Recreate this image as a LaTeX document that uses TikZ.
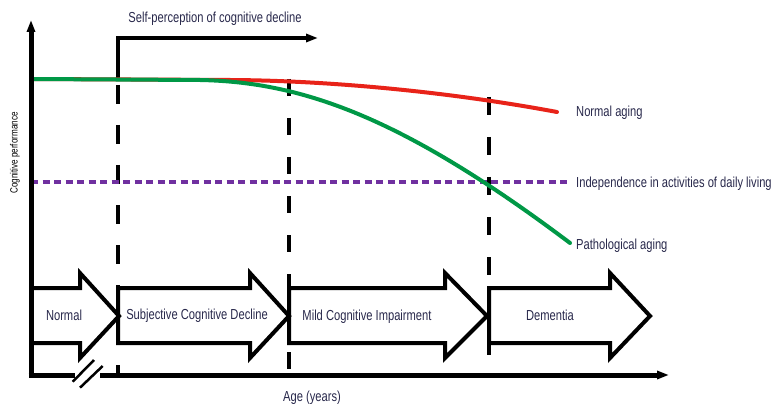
\documentclass[tikz,border=0pt]{standalone}
\usepackage{fontspec}
\setmainfont[FakeStretch=0.77]{Liberation Sans}
\usetikzlibrary{arrows.meta}
\definecolor{txt}{RGB}{40,40,75}
\definecolor{redc}{RGB}{232,35,25}
\definecolor{greenc}{RGB}{0,152,70}
\definecolor{purplec}{RGB}{112,48,160}
\begin{document}
\begin{tikzpicture}[x=1pt,y=-1pt,
  lbl/.style={font=\fontsize{14.5}{16}\selectfont, text=txt, inner sep=0pt},
  smalllbl/.style={font=\fontsize{10.5}{12}\selectfont, text=black, inner sep=0pt},
  axisline/.style={line width=5pt},
  blockarrow/.style={line width=4pt, line join=miter, miter limit=10},
  vdash/.style={line width=3.2pt},
  curve/.style={line width=4pt, line cap=round},
  tipstyle/.style={-{Triangle[length=12pt,width=8pt]}}]
\useasboundingbox (0,0) rectangle (781,406);

% ---- dashed vertical stage lines
\draw[vdash, dash pattern=on 19pt off 21pt] (118,85) coordinate (d1top) -- (118,375) coordinate (d1bot);
\draw[vdash, dash pattern=on 17pt off 22pt] (289,79) coordinate (d2top) -- (289,375) coordinate (d2bot);
\draw[vdash, dash pattern=on 18pt off 22pt] (489,97) coordinate (d3top) -- (489,375) coordinate (d3bot);

% ---- self-perception bracket
\coordinate (sp0) at (118,80);
\coordinate (sp1) at (118,38);
\coordinate (sp2) at (318,38);
\draw[line width=3.5pt, tipstyle] (sp0) -- (sp1) -- (sp2);
\node[lbl, anchor=base] (selfp) at (215,23) {Self-perception of cognitive decline};

% ---- purple threshold
\coordinate (p0) at (31,182);
\coordinate (p1) at (570,182);
\draw[purplec, line width=4pt, dash pattern=on 7pt off 4.5pt] (p0) -- (p1);

% ---- curves
\coordinate (c0) at (31,79);
\coordinate (redend) at (557,112);
\coordinate (greenend) at (570,243);
\draw[curve, redc] (c0) -- (230,80) .. controls (330,80.5) and (450,92) .. (redend);
\draw[curve, greenc] (c0) -- (200,80) .. controls (300,82) and (400,115) .. (greenend);

% ---- right labels
\node[lbl, anchor=base west] (normal) at (576,117) {Normal aging};
\node[lbl, anchor=base west] (indep) at (576,188) {Independence in activities of daily living};
\node[lbl, anchor=base west] (patho) at (576,249) {Pathological aging};

% ---- block arrows
\draw[blockarrow] (31,288) -- (80,288) -- (80,273) -- (119,316) -- (80,358) -- (80,343) -- (31,343);
\draw[blockarrow] (118,288) -- (250,288) -- (250,273) -- (289,316) -- (250,358) -- (250,343) -- (118,343) -- cycle;
\draw[blockarrow] (289,288) -- (445,288) -- (445,273) -- (487,316) -- (445,358) -- (445,343) -- (289,343) -- cycle;
\draw[blockarrow] (489,288) -- (610,288) -- (610,273) -- (650,316) -- (610,358) -- (610,343) -- (489,343) -- cycle;
\node[lbl, anchor=base] (stN) at (64,320) {Normal};
\node[lbl, anchor=base] (stS) at (197,319) {Subjective Cognitive Decline};
\node[lbl, anchor=base] (stM) at (367,320) {Mild Cognitive Impairment};
\node[lbl, anchor=base] (stD) at (550,320) {Dementia};

% ---- axes
\coordinate (origin) at (31,377);
\coordinate (ytip) at (31,20);
\draw[axisline, tipstyle] (origin) -- (ytip);
\coordinate (xa) at (28.5,375);
\coordinate (xb) at (75,375);
\coordinate (xc) at (100,375);
\coordinate (xtip) at (669,375);
\draw[axisline] (xa) -- (xb);
\draw[axisline, tipstyle] (xc) -- (xtip);
\draw[line width=2.5pt] (72.7,381.7) coordinate (b1a) -- (94,360) coordinate (b1b);
\draw[line width=2.5pt] (80,387.7) coordinate (b2a) -- (102.7,366) coordinate (b2b);

\node[lbl, anchor=base] (xlabel) at (312,401) {Age (years)};
\node[smalllbl, anchor=base, rotate=90] (ylabel) at (17.5,153) {Cognitive performance};
\end{tikzpicture}
\end{document}
